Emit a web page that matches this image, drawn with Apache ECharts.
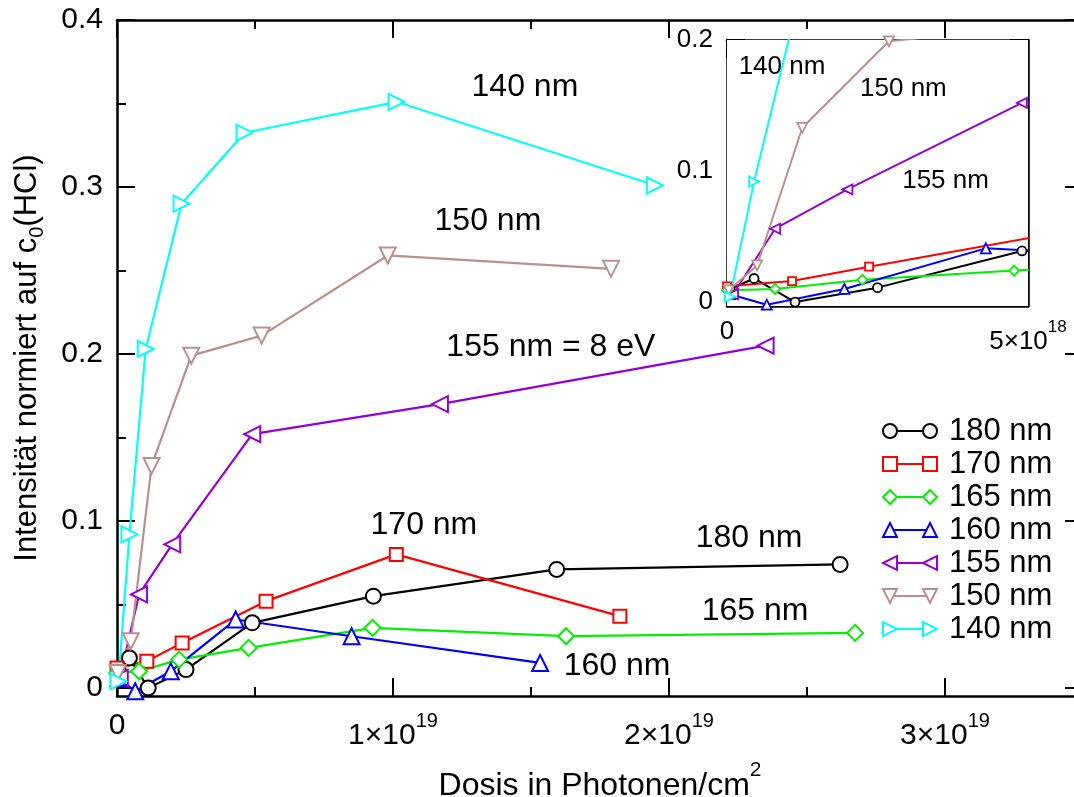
<!DOCTYPE html>
<html><head><meta charset="utf-8">
<script src="https://cdn.jsdelivr.net/npm/echarts@6/dist/echarts.min.js"></script>
<style>html,body{margin:0;padding:0;background:#fff}#c{width:1074px;height:797px}</style>
</head><body><div id="c"></div>
<script>
const FONT = 'Liberation Sans, Arial, Helvetica, sans-serif';
// Dose in units of 1e19 photons/cm^2, intensity normalised to c0(HCl)
const x180 = [0.005, 0.045, 0.113, 0.25, 0.49, 0.929, 1.593, 2.62];
const y180 = [0.010, 0.018, 0.000, 0.011, 0.039, 0.055, 0.071, 0.074];
const x170 = [0.0, 0.108, 0.236, 0.54, 1.012, 1.822];
const y170 = [0.012, 0.016, 0.027, 0.052, 0.080, 0.043];
const x165 = [0.0, 0.08, 0.225, 0.477, 0.926, 1.627, 2.674];
const y165 = [0.009, 0.010, 0.017, 0.024, 0.036, 0.031, 0.033];
const x160 = [0.005, 0.066, 0.195, 0.43, 0.85, 1.533];
const y160 = [0.006, -0.002, 0.010, 0.041, 0.031, 0.015];
const x155 = [0.01, 0.08, 0.2, 0.49, 1.17, 2.35];
const y155 = [0.006, 0.056, 0.086, 0.152, 0.170, 0.205];
const x150 = [0.003, 0.05, 0.125, 0.269, 0.524, 0.981, 1.79];
const y150 = [0.009, 0.028, 0.133, 0.199, 0.211, 0.259, 0.251];
const x140 = [0.005, 0.045, 0.104, 0.234, 0.462, 1.013, 1.949];
const y140 = [0.004, 0.092, 0.203, 0.290, 0.3325, 0.351, 0.301];

const seriesNames = ['180 nm', '170 nm', '165 nm', '160 nm', '155 nm', '150 nm', '140 nm'];
const seriesX = [x180, x170, x165, x160, x155, x150, x140];
const seriesY = [y180, y170, y165, y160, y155, y150, y140];
const seriesColors = ['#000000', '#ff0000', '#00ee00', '#0000ff', '#9400d3', '#bc8f8f', '#00ffff'];
const seriesMarkers = ['circle', 'rect', 'diamond', 'up', 'left', 'down', 'right'];

// tick positions
const xMajorTicks = [0, 1, 2, 3];
const xMinorTicks = [0.5, 1.5, 2.5];
const yMajorTicks = [0, 0.1, 0.2, 0.3, 0.4];
const yMinorTicks = [0.05, 0.15, 0.25, 0.35];
const insetXMajorTicks = [0, 0.5];
const insetXMinorTicks = [0.25];
const insetYMajorTicks = [0, 0.1, 0.2];
const insetYMinorTicks = [0.05, 0.15];

// annotations [text, x, y]
const mainNotes = [
  ['140 nm', 1.478, 0.360], ['150 nm', 1.344, 0.2796], ['155 nm = 8 eV', 1.572, 0.204],
  ['170 nm', 1.112, 0.0976], ['180 nm', 2.29, 0.0898], ['165 nm', 2.312, 0.0461], ['160 nm', 1.812, 0.0132]
];
const insetNotes = [['140 nm', 0.0914, 0.1794], ['150 nm', 0.293, 0.1626], ['155 nm', 0.363, 0.0924]];

const symMap = {
  circle: ['circle', 0], rect: ['rect', 0], diamond: ['diamond', 0],
  up: ['triangle', 0], left: ['triangle', 90], down: ['triangle', 180], right: ['triangle', -90]
};
const mainSize = {circle: 15, rect: 13, diamond: 16, up: 16, left: 16, down: 16, right: 16};
const insetSize = {circle: 9, rect: 8, diamond: 10, up: 10, left: 10, down: 10, right: 10};

function expLabel(v) {
  if (v === 0) return '{z|0}';
  const val = v * 1e19;
  const e = Math.floor(Math.log10(val) + 1e-9);
  const m = Math.round(val / Math.pow(10, e));
  return '{b|' + m + '×10}{s|' + e + '}';
}
function yLabel(v) { return v === 0 ? '0' : String(Math.round(v * 100) / 100); }

const TW = 2;
function xAx(grid, pos, min, max, ticks, len, labels, labelOpts, showLine) {
  return {
    type: 'value', gridIndex: grid, position: pos, min: min, max: max,
    axisLine: {show: showLine, onZero: false, lineStyle: {color: '#000', width: 2.5}},
    axisTick: {show: true, inside: true, length: len, customValues: ticks, lineStyle: {color: '#000', width: TW}},
    axisLabel: labels ? Object.assign({show: true, customValues: ticks, formatter: expLabel, color: '#000', fontFamily: FONT}, labelOpts) : {show: false},
    splitLine: {show: false}
  };
}
function yAx(grid, pos, min, max, ticks, len, labels, labelOpts, showLine) {
  return {
    type: 'value', gridIndex: grid, position: pos, min: min, max: max,
    axisLine: {show: showLine, onZero: false, lineStyle: {color: '#000', width: 2.5}},
    axisTick: {show: true, inside: true, length: len, customValues: ticks, lineStyle: {color: '#000', width: TW}},
    axisLabel: labels ? Object.assign({show: true, customValues: ticks, formatter: yLabel, color: '#000', fontFamily: FONT}, labelOpts) : {show: false},
    splitLine: {show: false}
  };
}

const MXMIN = 0, MXMAX = 3.5, MYMIN = -0.0048, MYMAX = 0.4;
const IXMIN = 0, IXMAX = 0.5, IYMIN = -0.003, IYMAX = 0.2;

const mainXLabel = {fontSize: 30, margin: 15, rich: {
  z: {fontSize: 30, lineHeight: 30, fontFamily: FONT, color: '#000'},
  b: {fontSize: 30, lineHeight: 40, verticalAlign: 'bottom', fontFamily: FONT, color: '#000'},
  s: {fontSize: 20, lineHeight: 20, verticalAlign: 'top', fontFamily: FONT, color: '#000'}
}};
const insetXLabel = {fontSize: 26, margin: 13, rich: {
  z: {fontSize: 26, lineHeight: 26, fontFamily: FONT, color: '#000'},
  b: {fontSize: 26, lineHeight: 36, verticalAlign: 'bottom', fontFamily: FONT, color: '#000'},
  s: {fontSize: 17, lineHeight: 17, verticalAlign: 'top', fontFamily: FONT, color: '#000'}
}};

const xAxes = [
  Object.assign(xAx(0, 'bottom', MXMIN, MXMAX, xMajorTicks, 18, true, mainXLabel, true), {
    name: '{t|Dosis in Photonen/cm}{s|2}', nameLocation: 'middle', nameGap: 64,
    nameTextStyle: {rich: {
      t: {fontSize: 32, lineHeight: 42, verticalAlign: 'bottom', fontFamily: FONT, color: '#000'},
      s: {fontSize: 21, lineHeight: 21, verticalAlign: 'top', fontFamily: FONT, color: '#000'}
    }}
  }),
  xAx(0, 'bottom', MXMIN, MXMAX, xMinorTicks, 9, false, null, false),
  xAx(0, 'top', MXMIN, MXMAX, xMajorTicks, 18, false, null, true),
  xAx(0, 'top', MXMIN, MXMAX, xMinorTicks, 9, false, null, false),
  xAx(1, 'bottom', IXMIN, IXMAX, insetXMajorTicks, 18, true, insetXLabel, true),
  xAx(1, 'bottom', IXMIN, IXMAX, insetXMinorTicks, 9, false, null, false),
  xAx(1, 'top', IXMIN, IXMAX, insetXMajorTicks, 18, false, null, true),
  xAx(1, 'top', IXMIN, IXMAX, insetXMinorTicks, 9, false, null, false)
];
const yAxes = [
  Object.assign(yAx(0, 'left', MYMIN, MYMAX, yMajorTicks, 18, true, {fontSize: 30, margin: 14}, true), {
    name: '{t|Intensität normiert auf c}{sub|0}{t|(HCl)}', nameLocation: 'middle', nameGap: 70,
    nameTextStyle: {rich: {
      t: {fontSize: 31, lineHeight: 40, fontFamily: FONT, color: '#000'},
      sub: {fontSize: 20, lineHeight: 20, verticalAlign: 'bottom', fontFamily: FONT, color: '#000'}
    }}
  }),
  yAx(0, 'left', MYMIN, MYMAX, yMinorTicks, 9, false, null, false),
  yAx(0, 'right', MYMIN, MYMAX, yMajorTicks, 18, false, null, true),
  yAx(0, 'right', MYMIN, MYMAX, yMinorTicks, 9, false, null, false),
  yAx(1, 'left', IYMIN, IYMAX, insetYMajorTicks, 18, true, {fontSize: 26, margin: 14}, true),
  yAx(1, 'left', IYMIN, IYMAX, insetYMinorTicks, 9, false, null, false),
  yAx(1, 'right', IYMIN, IYMAX, insetYMajorTicks, 18, false, null, true),
  yAx(1, 'right', IYMIN, IYMAX, insetYMinorTicks, 9, false, null, false)
];

function pairs(xs, ys) { return xs.map((x, i) => [x, ys[i]]); }

const series = [];
seriesNames.forEach((name, i) => {
  const mk = seriesMarkers[i];
  const [sym, rot] = symMap[mk];
  series.push({
    type: 'line', name: name, xAxisIndex: 0, yAxisIndex: 0, data: pairs(seriesX[i], seriesY[i]),
    symbol: sym, symbolRotate: rot, symbolSize: mainSize[mk], showAllSymbol: true, clip: false,
    lineStyle: {color: seriesColors[i], width: 2.2},
    itemStyle: {color: '#ffffff', borderColor: seriesColors[i], borderWidth: 2},
    emphasis: {disabled: true}, animation: false, z: 3
  });
});
seriesNames.forEach((name, i) => {
  const mk = seriesMarkers[i];
  const [sym, rot] = symMap[mk];
  series.push({
    type: 'line', name: name + ' inset', xAxisIndex: 4, yAxisIndex: 4, data: pairs(seriesX[i], seriesY[i]),
    symbol: sym, symbolRotate: rot, symbolSize: insetSize[mk], showAllSymbol: true, clip: true,
    lineStyle: {color: seriesColors[i], width: 2},
    itemStyle: {color: '#ffffff', borderColor: seriesColors[i], borderWidth: 1.8},
    emphasis: {disabled: true}, animation: false, z: 6
  });
});

const chart = echarts.init(document.getElementById('c'), null, {renderer: 'canvas'});
chart.setOption({
  backgroundColor: '#ffffff',
  animation: false,
  grid: [
    {left: 117, top: 20, width: 966, height: 676, show: false, outerBoundsMode: 'none', containLabel: false},
    {left: 727, top: 40, width: 301, height: 266, show: true, backgroundColor: '#ffffff', borderWidth: 0, z: 4, outerBoundsMode: 'none', containLabel: false}
  ],
  xAxis: xAxes,
  yAxis: yAxes,
  series: series
});

// legend + annotations
function markerShape(mk, cx, cy, s, color, lw) {
  const style = {fill: '#ffffff', stroke: color, lineWidth: lw};
  const h = s / 2;
  if (mk === 'circle') return {type: 'circle', shape: {cx: cx, cy: cy, r: h}, style: style, z: 20};
  if (mk === 'rect') return {type: 'rect', shape: {x: cx - h, y: cy - h, width: s, height: s}, style: style, z: 20};
  let pts;
  if (mk === 'diamond') pts = [[cx, cy - h], [cx + h, cy], [cx, cy + h], [cx - h, cy]];
  else if (mk === 'up') pts = [[cx, cy - h], [cx + h, cy + h], [cx - h, cy + h]];
  else if (mk === 'down') pts = [[cx, cy + h], [cx + h, cy - h], [cx - h, cy - h]];
  else if (mk === 'left') pts = [[cx - h, cy], [cx + h, cy - h], [cx + h, cy + h]];
  else pts = [[cx + h, cy], [cx - h, cy - h], [cx - h, cy + h]];
  return {type: 'polygon', shape: {points: pts}, style: style, z: 20};
}
const graphics = [];
const LEG_TOP = 431, LEG_STEP = 33, LEG_X1 = 890, LEG_X2 = 930, LEG_TEXT = 949;
seriesNames.forEach((name, i) => {
  const cy = LEG_TOP + i * LEG_STEP;
  graphics.push({type: 'line', shape: {x1: LEG_X1, y1: cy, x2: LEG_X2, y2: cy}, style: {stroke: seriesColors[i], lineWidth: 2}, z: 19});
  graphics.push(markerShape(seriesMarkers[i], LEG_X1, cy, 14, seriesColors[i], 2));
  graphics.push(markerShape(seriesMarkers[i], LEG_X2, cy, 14, seriesColors[i], 2));
  graphics.push({type: 'text', x: LEG_TEXT, y: cy, style: {text: name, font: '31px ' + FONT, fill: '#000', textAlign: 'left', textVerticalAlign: 'middle'}, z: 20});
});
mainNotes.forEach(n => {
  const p = chart.convertToPixel({xAxisIndex: 0, yAxisIndex: 0}, [n[1], n[2]]);
  graphics.push({type: 'text', x: p[0], y: p[1], style: {text: n[0], font: '32px ' + FONT, fill: '#000', textAlign: 'center', textVerticalAlign: 'middle'}, z: 20});
});
insetNotes.forEach(n => {
  const p = chart.convertToPixel({xAxisIndex: 4, yAxisIndex: 4}, [n[1], n[2]]);
  graphics.push({type: 'text', x: p[0], y: p[1], style: {text: n[0], font: '26px ' + FONT, fill: '#000', textAlign: 'center', textVerticalAlign: 'middle'}, z: 20});
});
chart.setOption({graphic: graphics});
</script>
</body></html>
